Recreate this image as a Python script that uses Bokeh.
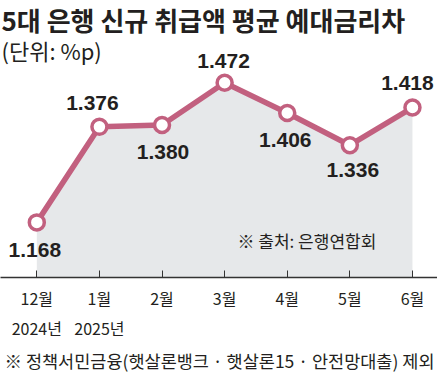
from bokeh.plotting import figure
from bokeh.models import Range1d, FixedTicker, Label, ColumnDataSource, Title
from bokeh.core.properties import value
from bokeh.embed import file_html
from bokeh.resources import INLINE

months = ["12월", "1월", "2월", "3월", "4월", "5월", "6월"]
years = ["2024년", "2025년", "", "", "", "", ""]
spread = [1.168, 1.376, 1.380, 1.472, 1.406, 1.336, 1.418]
labels = ["1.168", "1.376", "1.380", "1.472", "1.406", "1.336", "1.418"]
label_dy = [28, -24, 27, -22, 27, 25, -25]
label_dx = [-2, -7, 1, -1, -2, 3, -5]

KR = "Noto Sans CJK KR"
NUM = "Liberation Sans"
INK = "#231f20"
PINK = "#c2607f"

xs = list(range(len(months)))
src = ColumnDataSource(dict(x=xs, y=spread, t=labels, dy=label_dy, dx=label_dx))

p = figure(width=437, height=376, output_backend="svg", toolbar_location=None,
           x_range=Range1d(-0.58, 6.40), y_range=Range1d(1.048, 1.651),
           min_border_left=0, min_border_right=0, min_border_top=0, min_border_bottom=99,
           y_axis_location=None)
p.outline_line_color = None
p.xgrid.visible = False
p.ygrid.visible = False
p.background_fill_color = "white"
p.border_fill_color = "white"

p.varea(x="x", y1=1.0, y2="y", source=src, fill_color="#e6e8ea")
p.line(x="x", y="y", source=src, line_color=PINK, line_width=5.5, line_join="round")
p.scatter(x="x", y="y", source=src, size=15, fill_color="white", line_color=PINK, line_width=3.5)
p.text(x="x", y="y", text="t", source=src, y_offset="dy", x_offset="dx",
       text_align="center", text_baseline="middle", text_font=value(NUM),
       text_font_style="bold", text_font_size="21px", text_color=INK)

ax = p.xaxis[0]
ax.ticker = FixedTicker(ticks=xs)
ax.major_label_overrides = {i: (m + "\n" + y if y else m) for i, (m, y) in enumerate(zip(months, years))}
ax.major_label_text_font = KR
ax.major_label_text_font_size = "16px"
ax.major_label_text_color = INK
ax.major_label_text_line_height = 1.25
ax.major_label_standoff = 8
ax.major_tick_in = 7
ax.major_tick_out = 0
ax.minor_tick_line_color = None
ax.axis_line_color = "#333333"
ax.axis_line_width = 1.5
ax.major_tick_line_color = "#333333"
ax.major_tick_line_width = 1

p.add_layout(Label(x=1, y=277 - 19, x_units="screen", y_units="screen",
                   text="5대 은행 신규 취급액 평균 예대금리차", text_font=KR,
                   text_font_style="bold", text_font_size="26px", text_color=INK,
                   text_baseline="middle"))
p.add_layout(Label(x=1, y=277 - 49, x_units="screen", y_units="screen",
                   text="(단위: %p)", text_font=KR, text_font_size="22px",
                   text_color=INK, text_baseline="middle"))
p.add_layout(Label(x=237, y=277 - 240, x_units="screen", y_units="screen",
                   text="※ 출처: 은행연합회", text_font=KR, text_font_size="17px",
                   text_color=INK, text_baseline="middle"))
p.add_layout(Title(text="※ 정책서민금융(햇살론뱅크 · 햇살론15 · 안전망대출) 제외", text_font=KR,
                   text_font_size="17.5px", text_color=INK, text_font_style="normal",
                   align="left", offset=4, standoff=6), "below")

open("out.html", "w").write(file_html(p, INLINE))
